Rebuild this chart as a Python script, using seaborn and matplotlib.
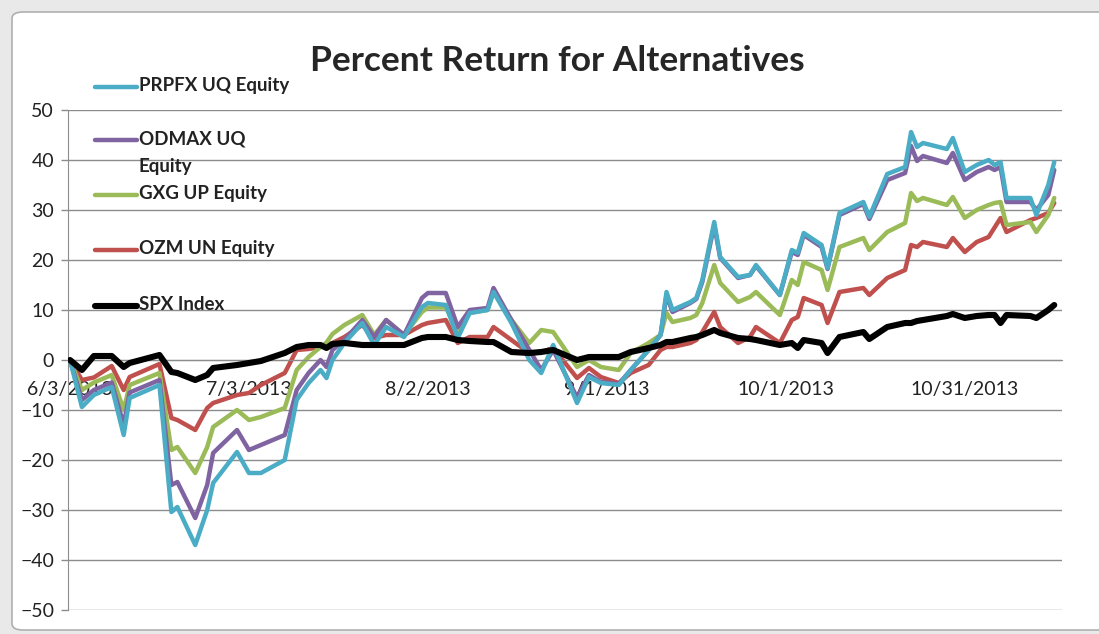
import pandas as pd
import seaborn as sns
import matplotlib.pyplot as plt
from matplotlib.lines import Line2D
from matplotlib.patches import FancyBboxPatch

# values (percent return since 6/3/2013)
dates = ["6/3/2013", "6/5/2013", "6/7/2013", "6/10/2013", "6/12/2013", "6/13/2013",
         "6/18/2013", "6/20/2013", "6/21/2013", "6/24/2013", "6/26/2013", "6/27/2013",
         "7/1/2013", "7/3/2013", "7/5/2013", "7/9/2013", "7/11/2013", "7/13/2013",
         "7/15/2013", "7/16/2013", "7/17/2013", "7/19/2013", "7/22/2013", "7/24/2013",
         "7/26/2013", "7/29/2013", "8/1/2013", "8/2/2013", "8/5/2013", "8/7/2013",
         "8/9/2013", "8/12/2013", "8/13/2013", "8/16/2013", "8/19/2013", "8/21/2013",
         "8/23/2013", "8/27/2013", "8/29/2013", "8/31/2013", "9/3/2013", "9/5/2013",
         "9/8/2013", "9/10/2013", "9/11/2013", "9/12/2013", "9/15/2013", "9/16/2013",
         "9/17/2013", "9/19/2013", "9/20/2013", "9/23/2013", "9/25/2013", "9/26/2013",
         "9/30/2013", "10/2/2013", "10/3/2013", "10/4/2013", "10/7/2013", "10/8/2013",
         "10/10/2013", "10/14/2013", "10/15/2013", "10/18/2013", "10/21/2013", "10/22/2013",
         "10/23/2013", "10/24/2013", "10/28/2013", "10/29/2013", "10/31/2013", "11/2/2013",
         "11/4/2013", "11/5/2013", "11/6/2013", "11/7/2013", "11/11/2013", "11/12/2013",
         "11/14/2013", "11/15/2013"]

prpfx = [0, -9.4, -7, -5.4, -15, -7.6, -5, -30.4, -29.4, -37, -30, -24.6,
         -18.4, -22.6, -22.6, -20, -8, -4.6, -2, -3.6, 0, 3.4, 7.4, 3,
         6.6, 4.6, 10.6, 11.4, 11, 4.4, 9.4, 10, 13.6, 7.4, 0, -2.6,
         3, -8.6, -3.4, -4.6, -5, -2, 2, 5, 13.6, 10, 11.6, 12.4,
         16, 27.6, 20.6, 16.6, 17, 19, 13, 22, 21.4, 25.4, 23, 18.4,
         29.4, 31.6, 28.6, 37.2, 38.6, 45.6, 42.6, 43.4, 42.2, 44.4, 37.6, 39,
         40, 39, 39.6, 32.4, 32.4, 29, 35, 39.6]

odmax = [0, -8, -6, -4.5, -13, -6.5, -4, -25, -24.4, -31.6, -25, -18.6,
         -14, -18, -17, -15, -6, -2.6, 0, -1.4, 2, 4, 8, 4.6,
         8, 5, 12.4, 13.4, 13.4, 6.6, 10, 10.4, 14.4, 8, 2, -2,
         2, -7.5, -3, -4.4, -4.8, -2, 2, 5, 13, 9.6, 11.4, 12.2,
         15.6, 27, 20.4, 16.4, 17, 18.8, 13, 21.6, 21, 25, 22.6, 18.2,
         29, 31.2, 28.2, 36, 37.4, 42.8, 39.8, 40.8, 39.4, 41.4, 36, 37.6,
         38.6, 38, 38.6, 31.6, 31.6, 30, 33, 38]

gxg = [0, -6, -4.5, -3, -10, -5, -2.6, -18, -17.4, -22.6, -17.4, -13.4,
       -10, -12, -11.4, -9.6, -2, 0.6, 2.6, 3.5, 5.2, 7, 9, 5,
       8, 5, 9.6, 10.5, 10.5, 6, 9.4, 10, 13.6, 8, 3.4, 6,
       5.6, -1.4, 0, -1.4, -2, 1.4, 3.4, 5, 9.4, 7.6, 8.4, 9,
       11.4, 19, 15.4, 11.6, 12.6, 13.6, 9, 16, 15, 19.6, 18, 14,
       22.6, 24.4, 22, 25.6, 27.4, 33.4, 31.8, 32.4, 31, 32.6, 28.4, 30,
       31, 31.4, 31.6, 27, 27.6, 25.6, 29, 32.4]

ozm = [0, -4, -3.5, -1.2, -6, -3.4, -0.8, -11.6, -12, -14, -9.6, -8.6,
       -7, -6.6, -5, -2.6, 2, 2.2, 2.6, 3, 3.4, 4.6, 7, 4.4,
       5, 5, 7, 7.4, 8, 3.4, 4.6, 4.6, 6.6, 4, 1.4, 1.6,
       2.4, -3.6, -1.6, -3.4, -4.6, -2.6, -1, 2, 2.6, 2.6, 3.4, 4,
       5.6, 9.6, 6.6, 3.4, 4.6, 6.6, 3.4, 8, 8.6, 12.4, 11, 7.4,
       13.6, 14.4, 13, 16.4, 18, 23, 22.6, 23.6, 22.6, 24.4, 21.6, 23.6,
       24.6, 26.5, 28.4, 25.6, 28, 28.4, 29.4, 31.4]

spx = [0, -2, 0.8, 0.8, -1.4, -0.6, 1, -2.4, -2.6, -4, -3, -1.6,
       -1, -0.6, -0.2, 1.4, 2.6, 3, 3, 2.4, 3.2, 3.4, 3, 3,
       3, 3, 4.4, 4.6, 4.6, 4, 3.8, 3.6, 3.6, 1.6, 1.4, 1.6,
       2, 0, 0.6, 0.6, 0.6, 1.6, 2.4, 3, 3.6, 3.6, 4.4, 4.6,
       5, 6, 5.4, 4.4, 4.2, 4, 3, 3.4, 2.4, 4, 3.4, 1.4,
       4.6, 5.6, 4.2, 6.6, 7.4, 7.4, 7.8, 8, 8.8, 9.2, 8.4, 8.8,
       9, 9, 7.4, 9, 8.8, 8.4, 10, 11]

names = ["PRPFX UQ Equity", "ODMAX UQ\nEquity", "GXG UP Equity", "OZM UN Equity", "SPX Index"]
tick_dates = ["6/3/2013", "7/3/2013", "8/2/2013", "9/1/2013", "10/1/2013", "10/31/2013"]
tick_labels = ["6/3/2013", "7/3/2013", "8/2/2013", "9/1/2013", "10/1/2013", "10/31/2013"]

colors = ["#4BACC6", "#8064A2", "#9BBB59", "#C0504D", "#000000"]
widths = [3.2, 3.2, 3.2, 3.2, 4.4]
zorders = [4, 3, 2.5, 2, 5]

df = pd.DataFrame({"Date": pd.to_datetime(dates, format="%m/%d/%Y")})
for name, vals in zip(names, [prpfx, odmax, gxg, ozm, spx]):
    df[name] = vals

sns.set_style("white")
plt.rcParams["font.family"] = ["Lato", "DejaVu Sans"]

W, H = 1099, 634
fig = plt.figure(figsize=(W / 100, H / 100), dpi=100)
fig.patch.set_facecolor("#e9e9e9")
fig.patches.append(FancyBboxPatch((12 / W, 4 / H), 1.2, 1 - 16 / H,
                                  boxstyle="round,pad=0,rounding_size=0.01",
                                  transform=fig.transFigure, facecolor="white",
                                  edgecolor="#b0b0b0", linewidth=1.2, zorder=-5))

ax = fig.add_axes([68 / W, 1 - 610 / H, (1062 - 68) / W, 500 / H])
ax.set_facecolor("none")

for name, c, lw, z in zip(names, colors, widths, zorders):
    sns.lineplot(data=df, x="Date", y=name, color=c, linewidth=lw, ax=ax, zorder=z)

t0 = pd.Timestamp("2013-06-03")
ax.set_xlim(t0 - pd.Timedelta(hours=8), t0 + pd.Timedelta(days=166.3))
ax.set_ylim(-50, 50)
ax.set_yticks(range(-50, 51, 10))
ax.yaxis.grid(True, color="#8c8c8c", linewidth=1)
ax.set_axisbelow(True)
ax.set_xlabel("")
ax.set_ylabel("")

ax.set_xticks(pd.to_datetime(tick_dates, format="%m/%d/%Y"))
ax.set_xticklabels(tick_labels)
ax.spines["bottom"].set_position(("data", 0))
ax.spines["bottom"].set_color("#8c8c8c")
ax.spines["left"].set_color("#8c8c8c")
ax.spines["top"].set_visible(False)
ax.spines["right"].set_visible(False)
ax.tick_params(axis="x", length=0, pad=15, labelsize=14, colors="#222222")
ax.tick_params(axis="y", length=5, width=1, color="#8c8c8c", pad=5, labelsize=14, colors="#222222", left=True)

fig.text(557 / W, 1 - 61 / H, "Percent Return for Alternatives",
         ha="center", va="center", fontsize=25.5, fontweight="bold")

# legend drawn like the Excel one, entries stacked at the upper left
leg_y = [87, 140, 195, 250, 306]
for name, c, lw, y in zip(names, colors, widths, leg_y):
    fig.add_artist(Line2D([95 / W, 137 / W], [1 - y / H, 1 - y / H], color=c,
                          linewidth=lw, transform=fig.transFigure, zorder=6))
    fig.text(139 / W, 1 - (y - 10) / H, name, ha="left", va="top",
             fontsize=13.5, fontweight="bold", color="#222222",
             linespacing=1.75, zorder=6)

fig.savefig("out.png", dpi=100)
